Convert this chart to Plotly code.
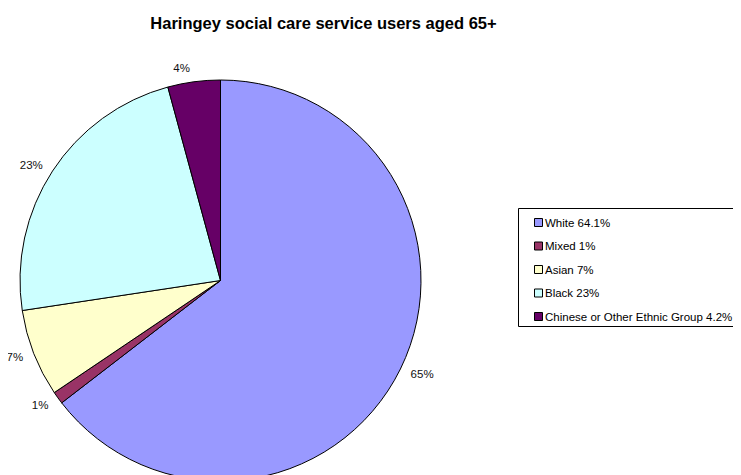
import plotly.graph_objects as go

labels = ["White 64.1%", "Mixed 1%", "Asian 7%", "Black 23%", "Chinese or Other Ethnic Group 4.2%"]
values = [64.1, 1, 7, 23, 4.2]
colors = ["#9999FF", "#993366", "#FFFFCC", "#CCFFFF", "#660066"]
title_text = "Haringey social care service users aged 65+"

W, H = 741, 490
OFF = 8  # browser body margin
FONT = "Liberation Sans, Arial, sans-serif"
CX, CY, R = 220.5, 280.5, 200.5   # pie centre / radius in window pixels
RL = 208.5                        # radius of the transparent pie that carries the labels


def px(x):
    return (x - OFF) / W


def py(y):
    return 1 - (y - OFF) / H


# transparent, slightly larger pie: only carries the outside percentage labels
label_pie = go.Pie(
    labels=labels,
    values=values,
    sort=False,
    direction="clockwise",
    rotation=0,
    marker=dict(colors=["rgba(0,0,0,0)"] * len(values), line=dict(width=0)),
    texttemplate="%{percent:.0%}",
    textposition="outside",
    textfont=dict(family=FONT, size=11.5, color="#111111"),
    domain=dict(x=[px(CX - RL), px(CX + RL)], y=[py(CY + RL), py(CY - RL)]),
    automargin=False,
    showlegend=False,
    hoverinfo="skip",
)

main_pie = go.Pie(
    labels=labels,
    values=values,
    sort=False,
    direction="clockwise",
    rotation=0,
    marker=dict(colors=colors, line=dict(color="#000000", width=1)),
    textinfo="none",
    domain=dict(x=[px(CX - R), px(CX + R)], y=[py(CY + R), py(CY - R)]),
    automargin=False,
    showlegend=False,
    hoverinfo="label+percent",
)

fig = go.Figure([label_pie, main_pie])

# legend box built from the label/colour lists
shapes = [dict(type="rect", xref="paper", yref="paper",
               x0=px(518.5), x1=px(745), y0=py(326.5), y1=py(208.5),
               line=dict(color="#000000", width=1), fillcolor="white", layer="below")]
annotations = []
y0_item, step = 222.5, 23.5
for i, (lab, col) in enumerate(zip(labels, colors)):
    yc = y0_item + i * step
    shapes.append(dict(type="rect", xref="paper", yref="paper",
                       x0=px(534.5), x1=px(542.5), y0=py(yc + 4), y1=py(yc - 4),
                       line=dict(color="#000000", width=1), fillcolor=col))
    annotations.append(dict(xref="paper", yref="paper", x=px(542.5), y=py(yc),
                            xanchor="left", yanchor="middle", showarrow=False,
                            text=lab, font=dict(family=FONT, size=11.5, color="#000000")))

fig.update_layout(
    width=W, height=H,
    margin=dict(l=0, r=0, t=0, b=0),
    paper_bgcolor="white",
    plot_bgcolor="white",
    title=dict(
        text="<b>" + title_text + "</b>",
        x=px(323.5), xanchor="center", y=py(23), yanchor="middle",
        font=dict(family=FONT, size=16.5, color="#000000"),
    ),
    shapes=shapes,
    annotations=annotations,
    showlegend=False,
)

fig.write_html("out.html")
